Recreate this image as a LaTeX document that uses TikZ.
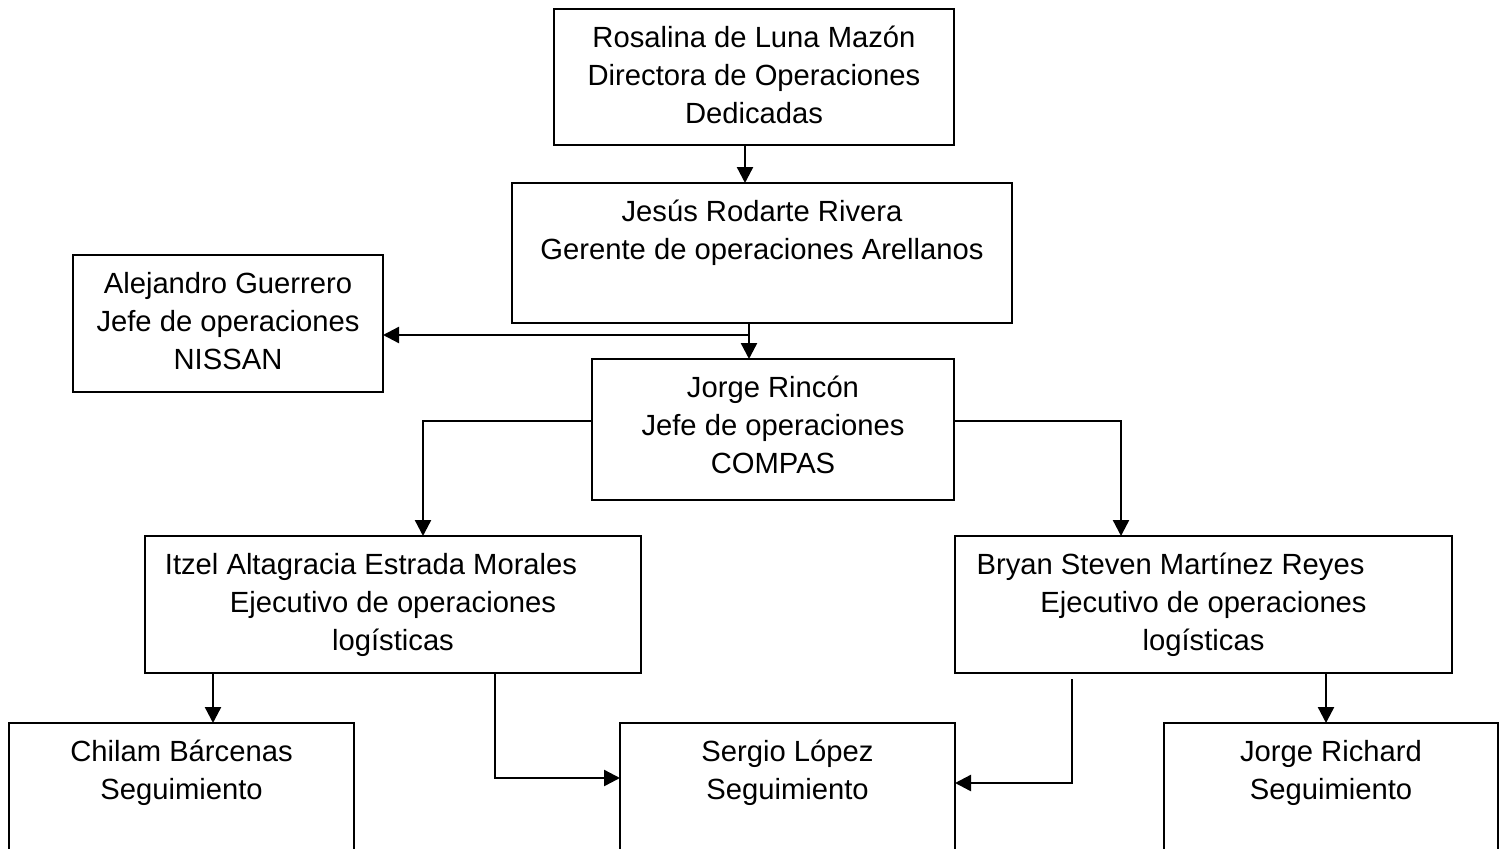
\documentclass[tikz,border=0pt]{standalone}
\usepackage{fontspec}
\setmainfont{Liberation Sans}
\usetikzlibrary{arrows.meta}
\newcommand{\fstrut}{\rule{0pt}{29pt}}
\begin{document}
\begin{tikzpicture}[x=1pt,y=-1pt,
  boxnode/.style={draw=black,line width=2.4pt,inner sep=0pt,outer sep=0pt},
  txt/.style={inner sep=0pt,anchor=north,align=center,font=\fontsize{29.2}{38}\selectfont},
  arr/.style={line width=2.4pt,-{Triangle[length=16pt,width=16pt]}},
  ln/.style={line width=2.4pt}]
\useasboundingbox (0,0) rectangle (1506,848);
\clip (0,0) rectangle (1506,848);
% boxes
\node[boxnode,minimum width=400pt,minimum height=136pt] (R) at (754,77) {};
\node[boxnode,minimum width=500pt,minimum height=140pt] (J) at (762,253) {};
\node[boxnode,minimum width=310pt,minimum height=137pt] (A) at (228,323.5) {};
\node[boxnode,minimum width=362pt,minimum height=141pt] (Jr) at (773,429.5) {};
\node[boxnode,minimum width=496pt,minimum height=137pt] (I) at (393,604.5) {};
\node[boxnode,minimum width=497pt,minimum height=137pt] (B) at (1203.5,604.5) {};
\node[boxnode,minimum width=345pt,minimum height=160pt] (C) at (181.5,803) {};
\node[boxnode,minimum width=335pt,minimum height=160pt] (S) at (787.5,803) {};
\node[boxnode,minimum width=334pt,minimum height=160pt] (JR) at (1331,803) {};
% texts
\node[txt] (tR) at ([yshift=-9pt]R.north) {\fstrut Rosalina de Luna Mazón\\Directora de Operaciones\\Dedicadas};
\node[txt] (tJ) at ([yshift=-9pt]J.north) {\fstrut Jesús Rodarte Rivera\\Gerente de operaciones Arellanos};
\node[txt] (tA) at ([yshift=-9pt]A.north) {\fstrut Alejandro Guerrero\\Jefe de operaciones\\NISSAN};
\node[txt] (tJr) at ([yshift=-9pt]Jr.north) {\fstrut Jorge Rincón\\Jefe de operaciones\\COMPAS};
\node[txt] (tI) at ([yshift=-9pt]I.north) {\fstrut Itzel Altagracia Estrada Morales\rule{44pt}{0pt}\\Ejecutivo de operaciones\\logísticas};
\node[txt] (tB) at ([yshift=-9pt]B.north) {\fstrut Bryan Steven Martínez Reyes\rule{66pt}{0pt}\\Ejecutivo de operaciones\\logísticas};
\node[txt] (tC) at ([yshift=-9pt]C.north) {\fstrut Chilam Bárcenas\\Seguimiento};
\node[txt] (tS) at ([yshift=-9pt]S.north) {\fstrut Sergio López\\Seguimiento};
\node[txt] (tJR) at ([yshift=-9pt]JR.north) {\fstrut Jorge Richard\\Seguimiento};
% connectors
\coordinate (rs) at ([xshift=-9pt]R.south);
\draw[arr] (rs) -- (rs |- J.north);
\coordinate (js) at ([xshift=-13pt]J.south);
\coordinate (jm) at (749,335);
\draw[arr] (js) -- (js |- Jr.north);
\draw[arr] (jm) -- (jm -| A.east);
\draw[arr] ([yshift=8.5pt]Jr.west) -| ([xshift=30pt]I.north);
\draw[arr] ([yshift=8.5pt]Jr.east) -| ([xshift=-82.5pt]B.north);
\coordinate (ic) at ([xshift=-180pt]I.south);
\draw[arr] (ic) -- (ic |- C.north);
\draw[arr] ([xshift=102pt]I.south) |- (S.west |- 0,778);
\coordinate (bs) at (1072,679);
\draw[arr] (bs) |- (S.east |- 0,783);
\coordinate (bj) at ([xshift=122.5pt]B.south);
\draw[arr] (bj) -- (bj |- JR.north);
\end{tikzpicture}
\end{document}
